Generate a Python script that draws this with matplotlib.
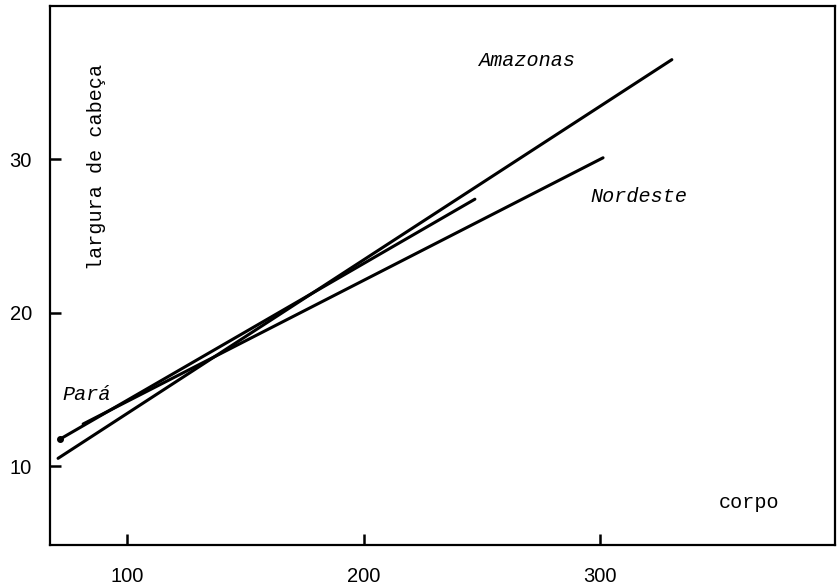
import matplotlib.pyplot as plt

# regression lines: corpo (x) vs largura de cabeça (y)
amazonas_x = [70.8, 330.4]
amazonas_y = [10.5, 36.5]
nordeste_x = [81.4, 301.3]
nordeste_y = [12.74, 30.1]
para_x = [71.7, 247.1]
para_y = [11.76, 27.4]

x_ticks = [100, 200, 300]
y_ticks = [10, 20, 30]

mono = 'Liberation Mono'
sans = 'Liberation Sans'

fig = plt.figure(figsize=(8.38, 5.86), dpi=100)
ax = fig.add_axes([0.0597, 0.0700, 0.9367, 0.9198])

ax.plot(amazonas_x, amazonas_y, color='black', lw=2.2, solid_capstyle='round')
ax.plot(nordeste_x, nordeste_y, color='black', lw=2.2, solid_capstyle='round')
ax.plot(para_x, para_y, color='black', lw=2.2, solid_capstyle='round')
ax.plot(para_x[:1], para_y[:1], 'o', color='black', ms=4)

ax.set_xlim(67.4, 399.4)
ax.set_ylim(4.85, 40.0)
ax.set_xticks(x_ticks)
ax.set_yticks(y_ticks)
ax.set_xticklabels([str(v) for v in x_ticks], fontfamily=sans, fontsize=14.5)
ax.set_yticklabels([str(v) for v in y_ticks], fontfamily=sans, fontsize=14.5)
ax.tick_params(direction='in', length=8, width=1.8, pad=13)
ax.tick_params(axis='x', pad=16)
for s in ax.spines.values():
    s.set_linewidth(1.6)

# labels inside the box
ax.text(97, 167, 'largura de cabeça', transform=None, fontfamily=mono, fontsize=14.5,
        rotation=90, ha='center', va='center')
ax.text(749, 503, 'corpo', transform=None, fontfamily=mono, fontsize=14.5, ha='center', va='center')
ax.text(527, 61, 'Amazonas', transform=None, fontfamily=mono, style='italic', fontsize=14.5,
        ha='center', va='center')
ax.text(639, 196, 'Nordeste', transform=None, fontfamily=mono, style='italic', fontsize=14.5,
        ha='center', va='center')
ax.text(87, 395, 'Pará', transform=None, fontfamily=mono, style='italic', fontsize=14.5,
        ha='center', va='center')

# pixel coordinates above are measured from the top; flip them
for t in ax.texts:
    x, y = t.get_position()
    t.set_position((x, 586 - y))

fig.savefig('out.png', dpi=100)
